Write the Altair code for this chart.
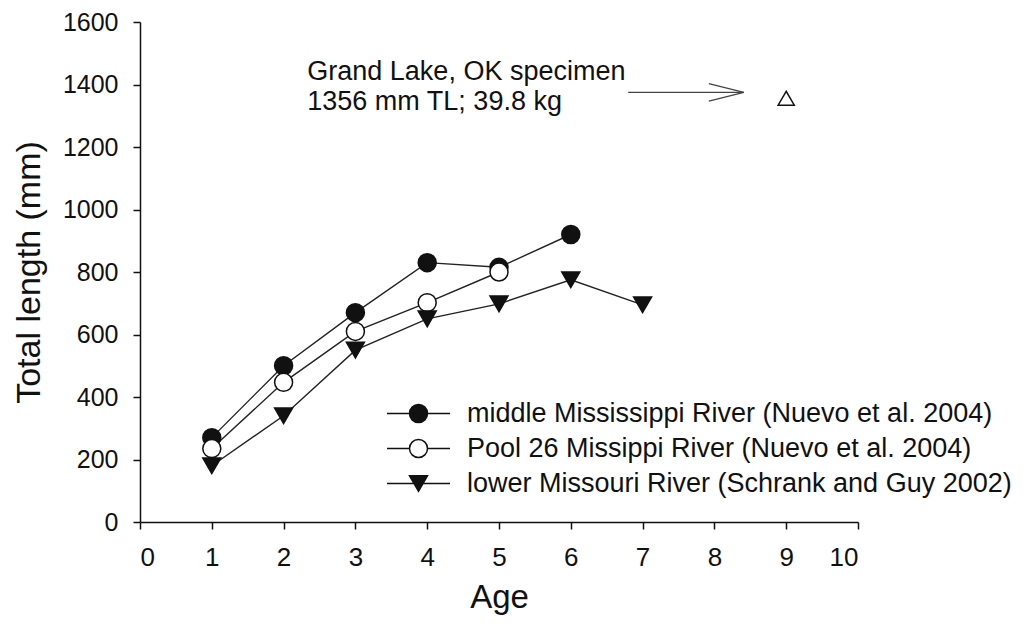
import altair as alt
import pandas as pd

# ---- data ----
series_names = [
    "middle Mississippi River (Nuevo et al. 2004)",
    "Pool 26 Missippi River (Nuevo et al. 2004)",
    "lower Missouri River (Schrank and Guy 2002)",
]
ages_mid = [1, 2, 3, 4, 5, 6]
len_mid = [270, 500, 670, 830, 815, 920]
ages_pool = [1, 2, 3, 4, 5]
len_pool = [235, 447, 610, 702, 800]
ages_low = [1, 2, 3, 4, 5, 6, 7]
len_low = [180, 340, 550, 650, 698, 775, 695]

specimen_age = [9]
specimen_len = [1356]
note_lines = ["Grand Lake, OK specimen", "1356 mm TL; 39.8 kg"]
note_age = [2.33]
note_len = [1415]
arrow_from_age = [6.8]
arrow_to_age = [8.41]
arrow_len = [1375]

x_ticks = list(range(0, 11))
y_ticks = list(range(0, 1601, 200))

FONT = "Liberation Sans"
INK = "#111111"

rows = []
for name, ages, lens in zip(series_names, [ages_mid, ages_pool, ages_low], [len_mid, len_pool, len_low]):
    for a, l in zip(ages, lens):
        rows.append({"series": name, "age": a, "length": l})
df = pd.DataFrame(rows)

spec_df = pd.DataFrame({"age": specimen_age, "length": specimen_len})
note_df = pd.DataFrame({"age": note_age, "length": note_len, "label": [note_lines]})
arrow_df = pd.DataFrame({"a0": arrow_from_age, "a1": arrow_to_age, "length": arrow_len})

xscale = alt.Scale(domain=[0, 10], nice=False)
yscale = alt.Scale(domain=[0, 1600], nice=False)

X = alt.X("age:Q", scale=xscale, title="Age",
          axis=alt.Axis(values=x_ticks, format="d"))
Y = alt.Y("length:Q", scale=yscale, title="Total length (mm)",
          axis=alt.Axis(values=y_ticks, format="d", titleFontSize=34))

lines = alt.Chart(df).mark_line(color="#222222", strokeWidth=1.4).encode(
    x=X, y=Y, detail="series:N", order="age:Q"
)

marker_shapes = ["circle", "circle", "triangle-down"]
marker_fills = [INK, "white", INK]
point_layers = []
for name, shp, fc in zip(series_names, marker_shapes, marker_fills):
    point_layers.append(
        alt.Chart(df).transform_filter(alt.datum.series == name).mark_point(
            shape=shp, filled=True, fill=fc, size=324, stroke=INK,
            strokeWidth=1.5, opacity=1
        ).encode(x=X, y=Y)
    )

# legend symbols: marker with line stubs
p_circle_full = "M-3.5,0H3.5M1,0A1,1 0 1,1 -1,0A1,1 0 1,1 1,0Z"
p_circle_open = "M-3.5,0H-1M1,0H3.5M1,0A1,1 0 1,1 -1,0A1,1 0 1,1 1,0Z"
p_tri = "M-3.5,0H3.5M-1,-0.866L1,-0.866L0,0.866Z"

leg = alt.Legend(
    title=None, orient="none", legendX=265, legendY=378,
    labelFontSize=27, labelFont=FONT, labelColor=INK, labelLimit=800,
    symbolSize=324, symbolStrokeWidth=1.5,
    labelOffset=35, rowPadding=7, padding=0, symbolOpacity=1,
)
legend_layer = alt.Chart(df).transform_filter("datum.age < 0").mark_point(
    filled=True, strokeWidth=1.5
).encode(
    x=X, y=Y,
    shape=alt.Shape("series:N", scale=alt.Scale(domain=series_names,
                    range=[p_circle_full, p_circle_open, p_tri]), legend=leg),
    fill=alt.Fill("series:N", scale=alt.Scale(domain=series_names,
                  range=marker_fills), legend=leg),
    stroke=alt.Stroke("series:N", scale=alt.Scale(domain=series_names,
                      range=[INK, INK, INK]), legend=leg),
)

specimen = alt.Chart(spec_df).mark_point(
    shape="triangle-up", size=260, filled=False, color=INK, strokeWidth=1.5, opacity=1
).encode(x=X, y=Y)

shaft = alt.Chart(arrow_df).mark_rule(color="#444444", strokeWidth=1.3).encode(
    x=alt.X("a0:Q", scale=xscale), x2="a1:Q", y=alt.Y("length:Q", scale=yscale)
)
head = alt.Chart(arrow_df).mark_point(
    shape="M-2,-0.5L0,0L-2,0.5", size=1225, filled=False, color="#444444",
    strokeWidth=1.3, opacity=1
).encode(x=alt.X("a1:Q", scale=xscale), y=alt.Y("length:Q", scale=yscale))

note = alt.Chart(note_df).mark_text(
    align="left", baseline="alphabetic", fontSize=27, lineHeight=30,
    font=FONT, color=INK
).encode(x=X, y=Y, text="label")

chart = alt.layer(lines, *point_layers, legend_layer, specimen, shaft, head, note).properties(
    width=718, height=500,
    padding={"left": 132, "top": 14, "right": 165, "bottom": 98},
    autosize=alt.AutoSizeParams(type="none"),
).configure_view(stroke=None).configure_axis(
    grid=False, domainColor=INK, tickColor=INK, domainWidth=1.5, tickWidth=1.5,
    tickSize=7, labelFont=FONT, titleFont=FONT, labelFontSize=26, titleFontSize=33,
    labelColor=INK, titleColor=INK, titleFontWeight="normal", labelPadding=15,
    titlePadding=11,
).configure_axisY(labelPadding=15, titlePadding=16, labelFontSize=25)

chart.save("out.html", embed_options={"renderer": "svg", "actions": False})
